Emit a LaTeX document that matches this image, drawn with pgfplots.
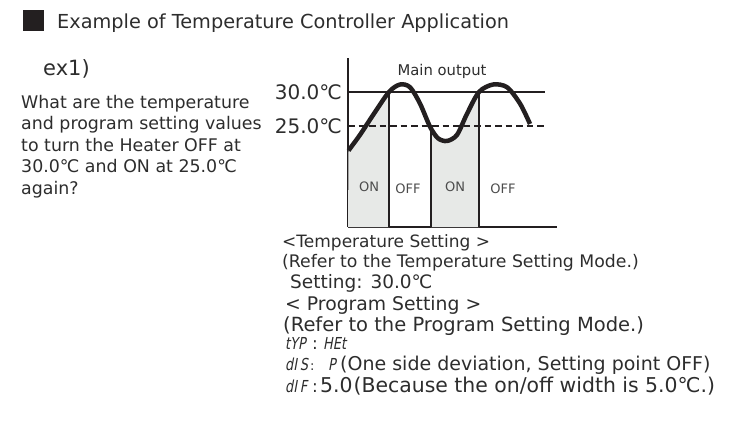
\documentclass[border=0pt]{standalone}
\usepackage{pgfplots}
\pgfplotsset{compat=1.18}
\usepgfplotslibrary{fillbetween}
\usepackage{fontspec}
\setmainfont{DejaVu Sans}
\newfontfamily\segfont{DejaVu Sans}[FakeStretch=0.78, FakeSlant=0.18]
\definecolor{ink}{RGB}{35,31,32}
\definecolor{txt}{RGB}{45,45,45}
\definecolor{onfill}{RGB}{231,233,231}
\newcommand\fs[1]{\fontsize{#1bp}{#1bp}\selectfont}
\newcommand\seg[1]{{\segfont\fs{16.5}#1}}
\begin{document}
\begin{tikzpicture}
\begin{axis}[
  at={(348bp,201bp)}, anchor=south west,
  scale only axis, width=209bp, height=169bp,
  xmin=0, xmax=209, ymin=10.15, ymax=35,
  axis lines=left,
  axis line style={-, line width=2.2bp, ink},
  xtick=\empty, ytick=\empty,
  clip=false,
]
\addplot[name path=curve, draw=none, smooth] coordinates {
 (0.5,21.4) (12,23.7) (25,26.6) (41,30.0) (52,31.1) (62,30.7) (72,28.3)
 (82,24.9) (90,23.2) (99,22.8) (109,23.7) (119,26.8) (131,30.0)
 (145,31.1) (159,30.7) (172,28.3) (182,25.3)};
\addplot[name path=base, draw=none] coordinates {(0,10.15) (209,10.15)};
\addplot[fill=onfill, draw=none] fill between[of=curve and base, soft clip={domain=0:41}];
\addplot[fill=onfill, draw=none] fill between[of=curve and base, soft clip={domain=83:131}];
\addplot[ink, line width=2bp] coordinates {(0,30) (197,30)};
\addplot[ink, line width=2.2bp, dash pattern=on 6.5bp off 4bp] coordinates {(0,25) (197,25)};
\addplot[ink, line width=2bp] coordinates {(41,10.15) (41,30)};
\addplot[ink, line width=2bp] coordinates {(83,10.15) (83,24.75)};
\addplot[ink, line width=2bp] coordinates {(131,10.15) (131,30)};
\addplot[ink, line width=4.5bp, smooth] coordinates {
 (0.5,21.4) (12,23.7) (25,26.6) (41,30.0) (52,31.1) (62,30.7) (72,28.3)
 (82,24.9) (90,23.2) (99,22.8) (109,23.7) (119,26.8) (131,30.0)
 (145,31.1) (159,30.7) (172,28.3) (182,25.3)};
\node[anchor=east, inner sep=0pt, text=txt, font=\fs{20}] at (axis cs:0,30) [xshift=-6bp] {30.0℃};
\node[anchor=east, inner sep=0pt, text=txt, font=\fs{20}] at (axis cs:0,25) [xshift=-6bp] {25.0℃};
\node[text=txt, font=\fs{14.8}, inner sep=0pt] at (axis cs:94,33.1) {Main output};
\node[text=txt!85, font=\fs{13}, inner sep=0pt] at (axis cs:21,16.0) {ON};
\node[text=txt!85, font=\fs{13}, inner sep=0pt] at (axis cs:60,15.8) {OFF};
\node[text=txt!85, font=\fs{13}, inner sep=0pt] at (axis cs:107,16.0) {ON};
\node[text=txt!85, font=\fs{13}, inner sep=0pt] at (axis cs:155,15.8) {OFF};
\end{axis}
\begin{scope}[x=1bp,y=1bp]
\path (0,0) rectangle (731,428);
\fill[ink] (23,397) rectangle (44,418);
\tikzset{t/.style={anchor=base west,inner sep=0pt,text=txt}}
\node[t] at (57,399) {\fs{19.3}Example of Temperature Controller Application};
\node[t] at (43,353) {\fs{21}ex1)};
\node[t] at (21,320) {\fs{17.4}What are the temperature};
\node[t] at (21,298.5) {\fs{17.4}and program setting values};
\node[t] at (21,277) {\fs{17.4}to turn the Heater OFF at};
\node[t] at (21,255.5) {\fs{17.4}30.0℃ and ON at 25.0℃};
\node[t] at (21,234) {\fs{17.4}again?};
\node[t] at (282,181) {\fs{17}<Temperature Setting >};
\node[t] at (282,161) {\fs{17.3}(Refer to the Temperature Setting Mode.)};
\node[t] at (290,140) {\fs{18.5}Setting: 30.0℃};
\node[t] at (285,118) {\fs{18.8}< Program Setting >};
\node[t] at (283,97) {\fs{19.5}(Refer to the Program Setting Mode.)};
\node[t] at (285,79) {\seg{tYP}};
\node[t] at (312,79) {\fs{17}:};
\node[t] at (323,79) {\seg{HEt}};
\node[t] at (285,58) {\seg{dI\,S}};
\node[t] at (310,58) {\fs{13}:};
\node[t] at (328,58) {\seg{P}};
\node[t] at (340,58) {\fs{19}(One side deviation, Setting point OFF)};
\node[t] at (285,36) {\seg{dI\,F}};
\node[t] at (312,36) {\fs{17}:};
\node[t] at (320,36) {\fs{20.4}5.0\kern1bp(Because the on/off width is 5.0℃.)};
\end{scope}
\end{tikzpicture}
\end{document}
